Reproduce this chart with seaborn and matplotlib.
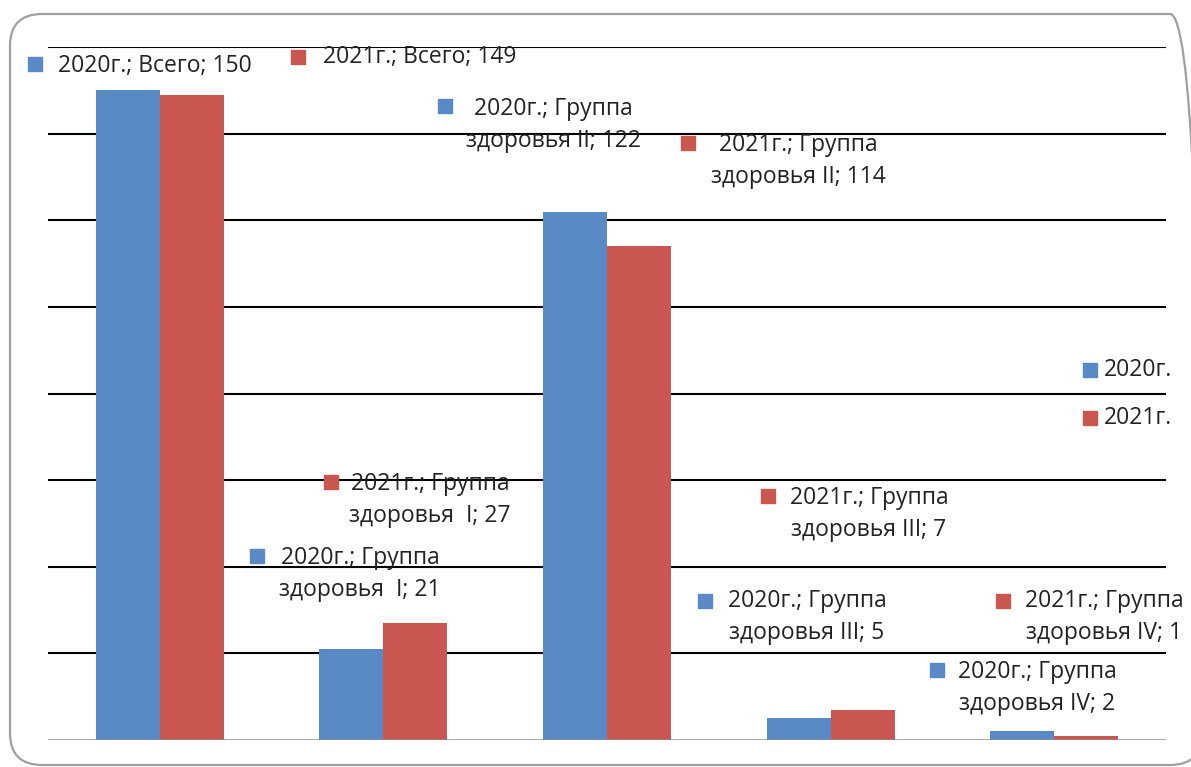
import pandas as pd
import matplotlib
matplotlib.use('Agg')
import matplotlib.pyplot as plt
import seaborn as sns
from matplotlib.patches import FancyBboxPatch, Rectangle

# данные
categories = ['Всего', 'Группа здоровья  I', 'Группа здоровья II', 'Группа здоровья III', 'Группа здоровья IV']
years = ['2020г.', '2021г.']
v2020 = [150, 21, 122, 5, 2]
v2021 = [149, 27, 114, 7, 1]
colors = ['#5A8AC6', '#C9574F']

df = pd.DataFrame({
    'cat': categories * 2,
    'val': v2020 + v2021,
    'year': [years[0]] * 5 + [years[1]] * 5,
})

W, H = 1191, 767
sns.set_style('white')
plt.rcParams['font.family'] = ['Open Sans', 'DejaVu Sans']

fig = plt.figure(figsize=(W / 100, H / 100), dpi=100)
ax = fig.add_axes([48 / W, 1 - 740 / H, (1166 - 48) / W, (740 - 47) / H])

sns.barplot(data=df, x='cat', y='val', hue='year', palette=colors, width=0.573,
            saturation=1, legend=False, ax=ax, edgecolor='none')

ax.set_ylim(0, 160)
ax.set_xlim(-0.5, 4.5)
for y in range(20, 161, 20):
    ax.axhline(y, color='black', lw=1.5, zorder=0)
ax.axhline(0, color='#8c8c8c', lw=1.8, zorder=3)
ax.set_xticks([])
ax.set_yticks([])
ax.set_xlabel('')
ax.set_ylabel('')
sns.despine(ax=ax, left=True, bottom=True)


def fx(x):
    return x / W


def fy(y):
    return 1 - y / H


def marker(x, y, c):
    s = 14
    fig.patches.append(Rectangle((fx(x - s / 2), fy(y + s / 2)), s / W, s / H,
                                 transform=fig.transFigure, color=c, zorder=5))


fs = 16.5

# подписи данных: (серия, категория, маркер x, маркер y, центр текста x, центр текста y)
label_pos = [
    (0, 0, 35, 64, 155, 66),
    (1, 0, 298, 57, 420, 57),
    (0, 2, 445, 106, 553, 125),
    (1, 2, 688, 143, 798, 161),
    (1, 1, 331, 482, 430, 500),
    (0, 1, 257, 556, 360, 574),
    (1, 3, 768, 496, 869, 514),
    (0, 3, 705, 601, 807, 617),
    (1, 4, 1003, 601, 1104, 617),
    (0, 4, 937, 670, 1037, 688),
]
vals = [v2020, v2021]
for s, c, mx, my, tx, ty in label_pos:
    cat = categories[c]
    if cat != 'Всего':
        cat = cat.replace('Группа ', 'Группа\n')
    txt = f'{years[s]}; {cat}; {vals[s][c]}'
    marker(mx, my, colors[s])
    fig.text(fx(tx), fy(ty), txt, ha='center', va='center', multialignment='center',
             fontsize=fs, color='#222222', linespacing=1.4, zorder=6)

# легенда
for i, (yr, yy) in enumerate(zip(years, [370, 418])):
    marker(1090, yy, colors[i])
    fig.text(fx(1104), fy(yy), yr, ha='left', va='center', fontsize=fs, color='#222222')

# рамка (в дюймах, чтобы углы были круглыми); правый край уходит за край картинки
fig.patches.append(FancyBboxPatch((0.10, 0.02), 11.92, 7.51,
                                  boxstyle='round,pad=0,rounding_size=0.32',
                                  transform=fig.dpi_scale_trans, fill=False,
                                  edgecolor='#a0a0a0', lw=1.6, zorder=10))

fig.savefig('out.png', dpi=100)
